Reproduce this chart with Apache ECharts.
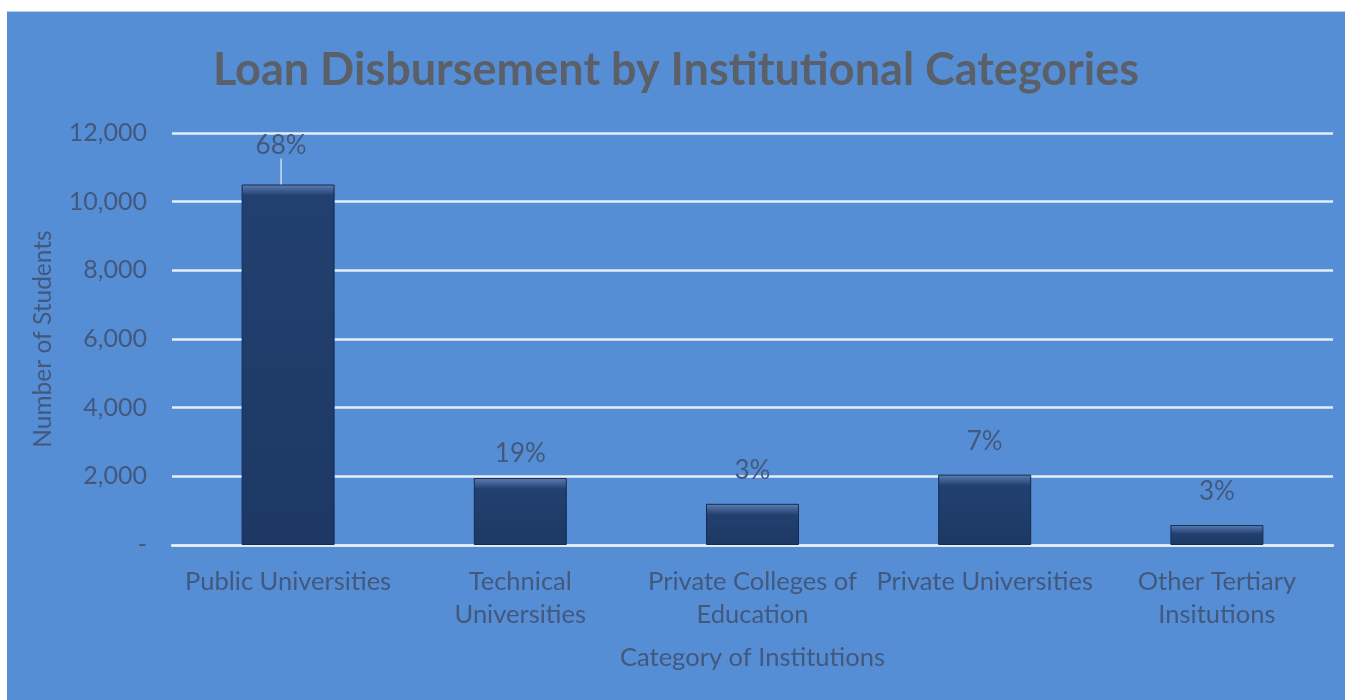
<!DOCTYPE html>
<html>
<head>
<meta charset="utf-8">
<script src="https://cdn.jsdelivr.net/npm/echarts@6/dist/echarts.min.js"></script>
<style>
  html, body { margin: 0; padding: 0; background: #ffffff; }
  #frame {
    position: absolute; left: 7px; top: 11px; width: 1338px; height: 689px;
    background: #568ed6; border-top: 1px solid #b8cfea;
  }
  #chart { width: 1338px; height: 689px; }
</style>
</head>
<body>
<div id="frame"><div id="chart"></div></div>
<script>
// Loan disbursement: students per institution category
const categories = [
  'Public Universities',
  'Technical Universities',
  'Private Colleges of Education',
  'Private Universities',
  'Other Tertiary Insitutions'
];
const students = [10500, 1950, 1200, 2050, 580];
const shareLabels = ['68%', '19%', '3%', '7%', '3%'];
const yTicks = { min: 0, max: 12000, interval: 2000 };

// two-line wrapping of the long category names
const wrapped = {
  'Technical Universities': 'Technical\nUniversities',
  'Private Colleges of Education': 'Private Colleges of\nEducation',
  'Other Tertiary Insitutions': 'Other Tertiary\nInsitutions'
};

const textColor = '#42587d';
const plotHeightPx = 411;

// bevelled bar fill: light band at the top edge, fixed pixel depth
function bevel(v) {
  const h = v / yTicks.max * plotHeightPx;
  const f = Math.min(0.45, 11 / h);
  return new echarts.graphic.LinearGradient(0, 0, 0, 1, [
    { offset: 0, color: '#6282b0' },
    { offset: f * 0.4, color: '#45649a' },
    { offset: f, color: '#22406f' },
    { offset: 1, color: '#1d3864' }
  ]);
}

const chart = echarts.init(document.getElementById('chart'));
chart.setOption({
  animation: false,
  title: {
    text: 'Loan Disbursement by Institutional Categories',
    left: 'center',
    top: 31,
    textStyle: { fontFamily: 'Lato', fontWeight: 'bold', fontSize: 45, color: '#5b5f68' }
  },
  grid: { left: 165, right: 12, top: 121, bottom: 156 },
  xAxis: {
    type: 'category',
    data: categories,
    name: 'Category of Institutions',
    nameLocation: 'middle',
    nameGap: 100,
    nameTextStyle: { fontFamily: 'Lato', fontSize: 25.5, color: textColor },
    axisLine: { show: true, lineStyle: { color: '#e4edf8', width: 2.5 } },
    axisTick: { show: false },
    axisLabel: {
      interval: 0,
      margin: 20,
      fontFamily: 'Lato',
      fontSize: 25.5,
      lineHeight: 33,
      color: textColor,
      formatter: (v) => wrapped[v] || v
    }
  },
  yAxis: {
    type: 'value',
    min: yTicks.min,
    max: yTicks.max,
    interval: yTicks.interval,
    name: 'Number of Students',
    nameLocation: 'middle',
    nameGap: 116,
    nameTextStyle: { fontFamily: 'Lato', fontSize: 24.5, color: textColor },
    axisLine: { show: false },
    axisTick: { show: false },
    splitLine: { lineStyle: { color: '#e4edf8', width: 2.5 } },
    axisLabel: {
      margin: 25,
      fontFamily: 'Lato',
      fontSize: 25,
      color: textColor,
      formatter: (v) => v === 0 ? '-' : v.toLocaleString('en-US')
    }
  },
  series: [{
    type: 'bar',
    barWidth: 93,
    data: students.map((v, i) => ({
      value: v,
      itemStyle: { color: bevel(v), borderColor: '#152c52', borderWidth: 1 },
      labelLine: { show: i === 0 }
    })),
    label: {
      show: true,
      position: 'top',
      distance: 20,
      fontFamily: 'Lato',
      fontSize: 26,
      color: textColor,
      formatter: (p) => shareLabels[p.dataIndex]
    },
    labelLayout: (p) => p.dataIndex === 0 ? { dx: -7, dy: -6 }
      : (p.dataIndex === 1 ? { dy: 9 } : {}),
    labelLine: { show: false, lineStyle: { color: '#c9dbf1', width: 1.5 } }
  }]
});
</script>
</body>
</html>
